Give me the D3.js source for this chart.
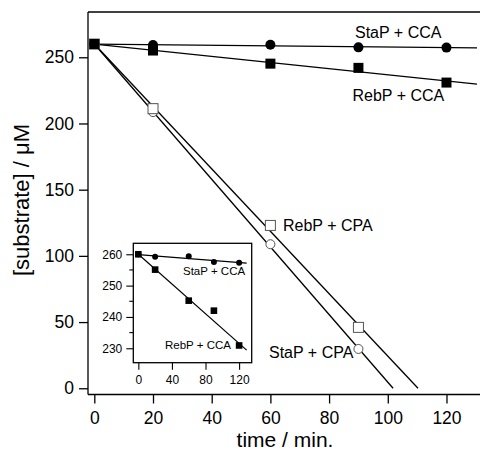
<!DOCTYPE html>
<html>
<head>
<meta charset="utf-8">
<script src="https://cdn.jsdelivr.net/npm/d3@7"></script>
<style>
  html, body { margin: 0; padding: 0; background: #fff; }
  svg { display: block; }
  text { font-family: "Liberation Sans", Arial, Helvetica, sans-serif; fill: #000; }
</style>
</head>
<body>
<svg id="chart" width="480" height="453"></svg>
<script>
// ---- data ----
const timeCCA = [0, 20, 60, 90, 120];
const stapCCA = [260, 259.2, 259.4, 257.5, 257.3];
const rebpCCA = [260, 255.1, 245.2, 242.0, 230.9];
const timeCPA = [0, 20, 60, 90];
const rebpCPA = [260, 211.2, 123.0, 46.0];
const stapCPA = [260, 208.6, 108.8, 29.7];

// fitted lines (endpoints)
const fitTimeCCA = [0, 130.4];
const fitStapCCA = [259.9, 257.1];
const fitRebpCCA = [260.0, 229.8];
const fitTimeRebpCPA = [0, 110.3];
const fitRebpCPA = [260, 0];
const fitTimeStapCPA = [0, 101.8];
const fitStapCPA = [260, 0];
const insetFitTime = [0, 129];

const xTicks = [0, 20, 40, 60, 80, 100, 120];
const yTicks = [0, 50, 100, 150, 200, 250];
const insetXTicks = [0, 40, 80, 120];
const insetYTicks = [230, 240, 250, 260];
const insetYMinor = [235, 245, 255];

const labels = ["StaP + CCA", "RebP + CCA", "RebP + CPA", "StaP + CPA"];

// ---- layout ----
const svg = d3.select("#chart");
const L = 88, R = 477, T = 12, B = 394.5;
const x = d3.scaleLinear().domain([-2.15, 130.4]).range([L, R]);
const y = d3.scaleLinear().domain([-4.7, 284.2]).range([B, T]);

const zip = (a, b) => a.map((v, i) => [v, b[i]]);
const line = d3.line().x(d => x(d[0])).y(d => y(d[1]));

// frame
svg.append("line").attr("x1", L).attr("x2", 480).attr("y1", T).attr("y2", T)
  .attr("stroke", "#000").attr("stroke-width", 1.3);
svg.append("line").attr("x1", L).attr("x2", 480).attr("y1", B).attr("y2", B)
  .attr("stroke", "#000").attr("stroke-width", 1.3);
svg.append("line").attr("x1", L).attr("x2", L).attr("y1", T).attr("y2", B)
  .attr("stroke", "#000").attr("stroke-width", 1.3);

// y axis
const yAxis = svg.append("g").attr("transform", `translate(${L},0)`)
  .call(d3.axisLeft(y).tickValues(yTicks).tickSize(9).tickPadding(5).tickFormat(d3.format("d")));
yAxis.select(".domain").remove();
yAxis.selectAll("line").attr("stroke-width", 1.3);
yAxis.selectAll("text").attr("font-size", "17.5px").attr("font-family", null);

// x axis
const xAxis = svg.append("g").attr("transform", `translate(0,${B})`)
  .call(d3.axisBottom(x).tickValues(xTicks).tickSize(9).tickPadding(8).tickFormat(d3.format("d")));
xAxis.select(".domain").remove();
xAxis.selectAll("line").attr("stroke-width", 1.3);
xAxis.selectAll("text").attr("font-size", "17.5px").attr("font-family", null);

// titles
svg.append("text").attr("x", 285).attr("y", 447).attr("text-anchor", "middle")
  .attr("font-size", "21px").text("time / min.");
svg.append("text").attr("transform", "translate(29,200) rotate(-90)")
  .attr("text-anchor", "middle").attr("font-size", "22px").text("[substrate] / μM");

// fit lines
const mainLines = [
  zip(fitTimeRebpCPA, fitRebpCPA),
  zip(fitTimeStapCPA, fitStapCPA),
  zip(fitTimeCCA, fitStapCCA),
  zip(fitTimeCCA, fitRebpCCA)
];
svg.append("g").selectAll("path").data(mainLines).join("path")
  .attr("d", line).attr("fill", "none").attr("stroke", "#000").attr("stroke-width", 1.3);

// markers
const openGray = "#555";
svg.append("g").selectAll("circle").data(zip(timeCPA, stapCPA)).join("circle")
  .attr("cx", d => x(d[0])).attr("cy", d => y(d[1])).attr("r", 4.5)
  .attr("fill", "#fff").attr("stroke", openGray).attr("stroke-width", 1);
svg.append("g").selectAll("rect").data(zip(timeCPA, rebpCPA)).join("rect")
  .attr("x", d => x(d[0]) - 5).attr("y", d => y(d[1]) - 5).attr("width", 10).attr("height", 10)
  .attr("fill", "#fff").attr("stroke", openGray).attr("stroke-width", 1);
svg.append("g").selectAll("circle").data(zip(timeCCA, stapCCA)).join("circle")
  .attr("cx", d => x(d[0])).attr("cy", d => y(d[1])).attr("r", 5)
  .attr("fill", "#000");
svg.append("g").selectAll("rect").data(zip(timeCCA, rebpCCA)).join("rect")
  .attr("x", d => x(d[0]) - 5).attr("y", d => y(d[1]) - 5).attr("width", 10).attr("height", 10)
  .attr("fill", "#000");

// series labels
const lab = (t, px, py, fs) => svg.append("text").attr("x", px).attr("y", py)
  .attr("font-size", fs).text(t);
lab(labels[0], 355, 38, "16px");
lab(labels[1], 352.5, 101, "16px");
lab(labels[2], 283, 231, "16px");
lab(labels[3], 269, 357.5, "16px");

// ---- inset ----
const iL = 133.3, iR = 251.7, iT = 243.3, iB = 362.7;
const ix = d3.scaleLinear().domain([-6, 135]).range([iL, iR]);
const iy = d3.scaleLinear().domain([225.4, 263.5]).range([iB, iT]);
const iline = d3.line().x(d => ix(d[0])).y(d => iy(d[1]));
const inset = svg.append("g");
inset.append("rect").attr("x", iL).attr("y", iT).attr("width", iR - iL).attr("height", iB - iT)
  .attr("fill", "#fff").attr("stroke", "#000").attr("stroke-width", 1.3);

const iyAxis = inset.append("g").attr("transform", `translate(${iL},0)`)
  .call(d3.axisLeft(iy).tickValues(insetYTicks).tickSize(7).tickPadding(4).tickFormat(d3.format("d")));
iyAxis.select(".domain").remove();
iyAxis.selectAll("line").attr("stroke-width", 1.1);
iyAxis.selectAll("text").attr("font-size", "12px").attr("font-family", null);
inset.append("g").selectAll("line").data(insetYMinor).join("line")
  .attr("x1", iL - 4).attr("x2", iL).attr("y1", d => iy(d)).attr("y2", d => iy(d))
  .attr("stroke", "#000").attr("stroke-width", 1.1);

const ixAxis = inset.append("g").attr("transform", `translate(0,${iB})`)
  .call(d3.axisBottom(ix).tickValues(insetXTicks).tickSize(7).tickPadding(6).tickFormat(d3.format("d")));
ixAxis.select(".domain").remove();
ixAxis.selectAll("line").attr("stroke-width", 1.1);
ixAxis.selectAll("text").attr("font-size", "12px").attr("font-family", null);

// inset fit lines (ends from reading the picture)
const insetStapEnd = [259.9, 257.2];
const insetRebpEnd = [260.0, 229.4];
inset.append("g").selectAll("path")
  .data([zip(insetFitTime, insetStapEnd), zip(insetFitTime, insetRebpEnd)]).join("path")
  .attr("d", iline).attr("fill", "none").attr("stroke", "#000").attr("stroke-width", 1.2);

inset.append("g").selectAll("circle").data(zip(timeCCA, stapCCA)).join("circle")
  .attr("cx", d => ix(d[0])).attr("cy", d => iy(d[1])).attr("r", 3)
  .attr("fill", "#000");
inset.append("g").selectAll("rect").data(zip(timeCCA, rebpCCA)).join("rect")
  .attr("x", d => ix(d[0]) - 3.3).attr("y", d => iy(d[1]) - 3.3).attr("width", 6.6).attr("height", 6.6)
  .attr("fill", "#000");

inset.append("text").attr("x", 183).attr("y", 275).attr("font-size", "11.5px").text(labels[0]);
inset.append("text").attr("x", 165).attr("y", 349).attr("font-size", "11.5px").text(labels[1]);
</script>
</body>
</html>
